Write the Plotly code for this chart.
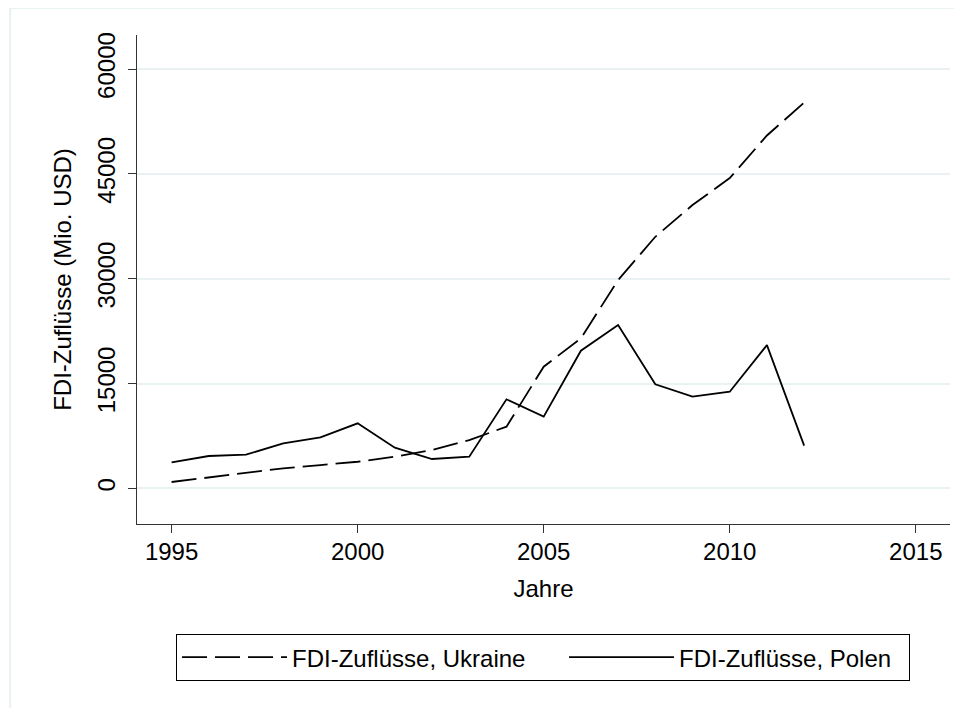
import plotly.graph_objects as go

years = list(range(1995, 2013))
ukraine = [900, 1520, 2150, 2860, 3330, 3800, 4520, 5480, 6900, 8820,
           17400, 21460, 29800, 36000, 40540, 44400, 50500, 55200]
polen = [3720, 4620, 4810, 6440, 7300, 9300, 5810, 4190, 4520, 12740,
         10250, 19690, 23370, 14880, 13110, 13820, 20500, 6100]

x_ticks = [1995, 2000, 2005, 2010, 2015]
y_ticks = [0, 15000, 30000, 45000, 60000]
y_labels = ["0", "15000", "30000", "45000", "60000"]

font_name = "Liberation Sans, Arial, sans-serif"
grid_col = "#e9f1f3"

fig = go.Figure()

fig.add_trace(go.Scatter(x=years, y=ukraine, mode="lines", name="FDI-Zuflüsse, Ukraine",
                         legendwidth=267,
                         line=dict(color="black", width=1.8, dash="25px,8px")))
fig.add_trace(go.Scatter(x=years, y=polen, mode="lines", name="FDI-Zuflüsse, Polen",
                         legendwidth=225,
                         line=dict(color="black", width=1.8)))

# light outer frame like the stata graph region
fig.add_shape(type="rect", xref="paper", yref="paper",
              x0=-0.156, x1=1.2, y0=-0.6, y1=1.055,
              line=dict(color=grid_col, width=2), layer="below")

fig.update_xaxes(range=[1994.07, 2015.92], tickvals=x_ticks, ticks="outside",
                 ticklen=8, tickcolor="#333", showline=True, linecolor="#333",
                 linewidth=1, showgrid=False, zeroline=False, automargin=False,
                 ticklabelstandoff=-2,
                 tickfont=dict(size=24, color="black"),
                 title=dict(text="Jahre", font=dict(size=24, color="black"), standoff=16))
fig.update_yaxes(range=[-5110, 64880], tickvals=y_ticks, ticktext=y_labels, ticks="outside",
                 ticklen=8, tickcolor="#333", showline=True, linecolor="#333",
                 linewidth=1, showgrid=True, gridcolor=grid_col, gridwidth=2,
                 zeroline=False, tickangle=-90, ticklabelstandoff=3, automargin=False,
                 tickfont=dict(size=24, color="black"),
                 title=dict(text="FDI-Zuflüsse (Mio. USD)", font=dict(size=24, color="black"),
                            standoff=15))

# page body adds 8px, so the figure is 8px smaller than the window
fig.update_layout(
    width=954, height=700,
    margin=dict(l=129, r=12, t=27, b=184),
    paper_bgcolor="white", plot_bgcolor="white",
    font=dict(family=font_name, size=24, color="black"),
    legend=dict(orientation="h", x=0.048, y=-0.225, xanchor="left", yanchor="top",
                bordercolor="black", borderwidth=1, bgcolor="white",
                itemwidth=105, font=dict(size=24)),
)

fig.write_html("out.html")
